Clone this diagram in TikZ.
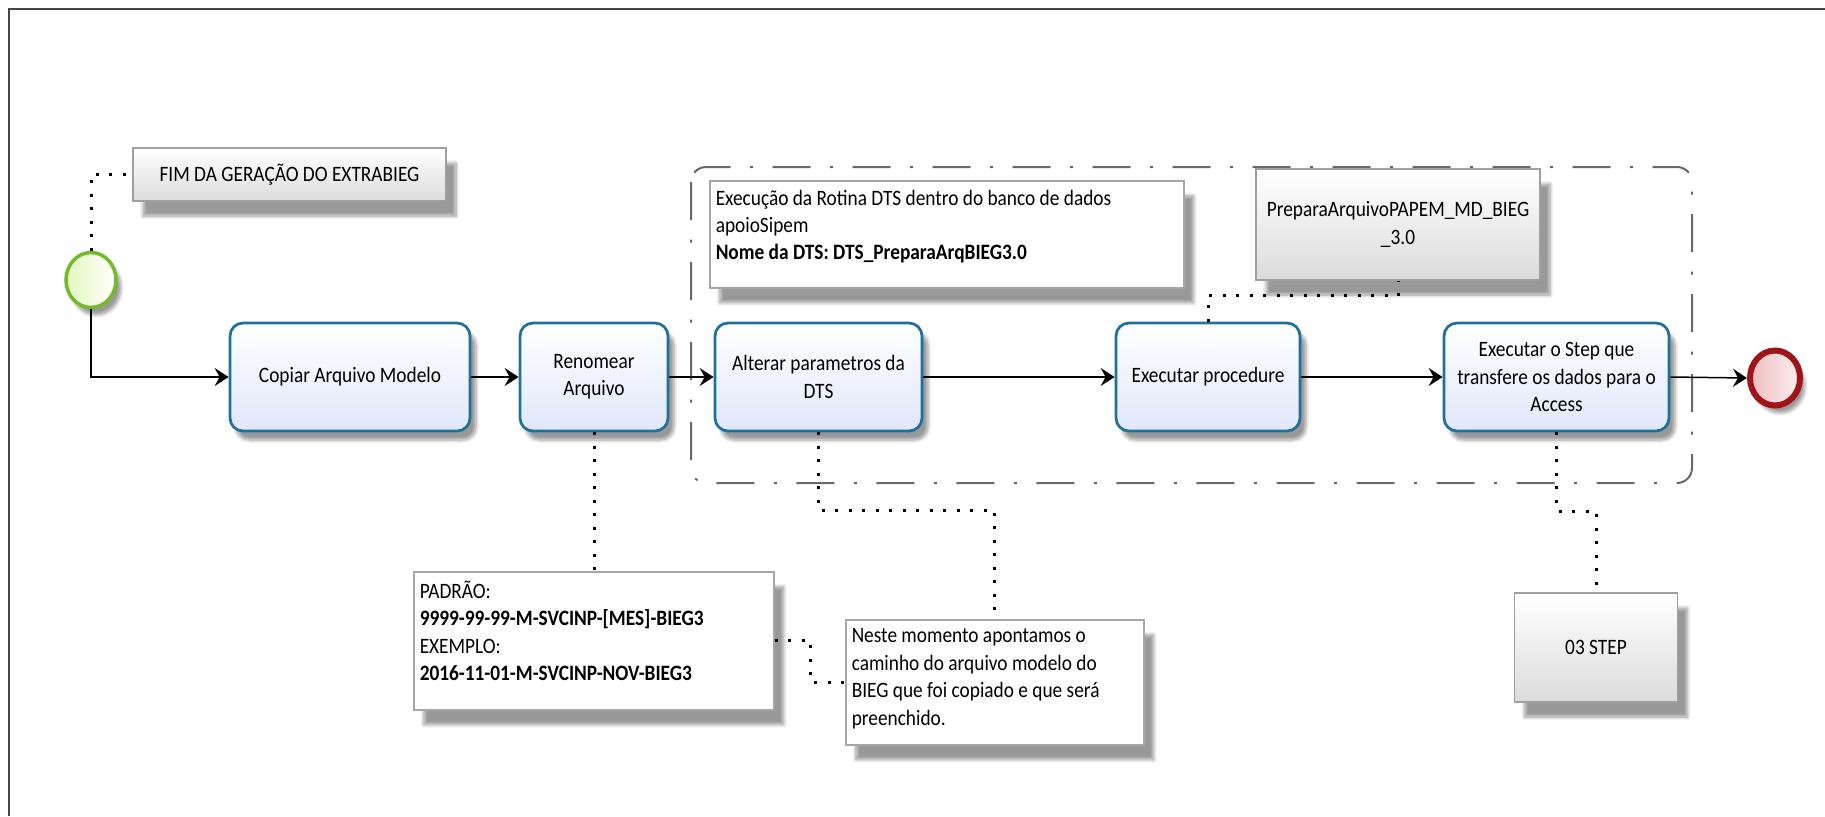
\documentclass[tikz,border=0pt]{standalone}
\usepackage{fontspec}
\setmainfont{Carlito}[FakeStretch=0.88]
\usetikzlibrary{shapes.geometric,shadows.blur,arrows.meta}
\definecolor{azultarefa}{RGB}{32,112,155}
\definecolor{fundotarefa}{RGB}{224,231,250}
\definecolor{verdeinicio}{RGB}{115,185,40}
\definecolor{fundoinicio}{RGB}{228,246,190}
\definecolor{vermelhofim}{RGB}{160,20,25}
\definecolor{fundofim}{RGB}{238,190,192}
\definecolor{cinzagrupo}{RGB}{105,105,105}

\begin{document}
\begin{tikzpicture}[x=0.2mm, y=-0.2mm, font=\fontsize{12.5}{15.6}\selectfont]
            \tikzstyle{tarefa} = [rectangle, rounded corners=2.6mm, draw=azultarefa, line width=0.55mm, top color=white, bottom color=fundotarefa, minimum height=21.6mm, inner sep=0pt, align=center, blur shadow={shadow xshift=1.2mm, shadow yshift=-1.8mm, shadow blur steps=6}]
            \tikzstyle{nota} = [rectangle, draw=gray!70, fill=white, line width=0.3mm, anchor=north west, inner xsep=1.2mm, inner ysep=1.8mm, blur shadow={shadow xshift=2mm, shadow yshift=-3mm, shadow blur steps=8}]
            \tikzstyle{notacinza} = [rectangle, draw=gray!75, line width=0.35mm, top color=white, bottom color=gray!28, inner sep=0pt, align=center, blur shadow={shadow xshift=2mm, shadow yshift=-3mm, shadow blur steps=8}]
            \tikzstyle{evento} = [ellipse, minimum width=10mm, minimum height=11mm, inner sep=0pt, blur shadow={shadow xshift=1mm, shadow yshift=-1.5mm, shadow blur steps=6}]
            \tikzstyle{seta} = [-{Stealth[length=2.8mm, width=3.6mm, inset=1mm]}, line width=0.3mm]
            \tikzstyle{pontos} = [line width=0.6mm, dash pattern=on 0.6mm off 2.1mm]
            \tikzstyle{grupo} = [draw=cinzagrupo, line width=0.4mm, rounded corners=3mm, dash pattern=on 7.6mm off 3.9mm on 0.6mm off 3.9mm]

            \useasboundingbox (0,0) rectangle (1825,816);
            \draw[line width=0.55mm, gray!55!black] (9,816) -- (9,9) -- (1825,9);

            \draw[grupo] (691,167) rectangle (1692,483);

            \node[evento, draw=verdeinicio, line width=0.7mm, left color=fundoinicio, right color=white] (ini) at (91,280) {};
            \node[evento, draw=vermelhofim, line width=1.2mm, left color=fundofim, right color=fundofim!25] (fim) at (1775,378) {};

            \node[tarefa, minimum width=48mm] (copiar) at (350,377) {Copiar Arquivo Modelo};
            \node[tarefa, minimum width=29.6mm] (renomear) at (594,377) {Renomear\\Arquivo};
            \node[tarefa, minimum width=41.4mm] (alterar) at (818.5,377) {Alterar parametros da\\DTS};
            \node[tarefa, minimum width=36.8mm] (executar) at (1208,377) {Executar procedure};
            \node[tarefa, minimum width=45mm] (step) at (1556.5,377) {Executar o Step que\\transfere os dados para o\\Access};

            \node[notacinza, minimum width=62.6mm, minimum height=10.6mm] (geracao) at (289.5,174.5) {FIM DA GERAÇÃO DO EXTRABIEG};
            \node[notacinza, minimum width=56.8mm, minimum height=22.2mm] (prepara) at (1398,224.5) {PreparaArquivoPAPEM\_MD\_BIEG\\\_3.0};
            \node[notacinza, minimum width=32.6mm, minimum height=21.8mm] (passo) at (1596,647.5) {03 STEP};

            \node[nota] (execucao) at (709,180) {\parbox[t][17.8mm][t]{92.4mm}{Execução da Rotina DTS dentro do banco de dados\\apoioSipem\\\textbf{Nome da DTS: DTS\_PreparaArqBIEG3.0}}};
            \node[nota] (padrao) at (413,571) {\parbox[t][24mm][t]{69.6mm}{PADRÃO:\\\textbf{9999-99-99-M-SVCINP-[MES]-BIEG3}\\EXEMPLO:\\\textbf{2016-11-01-M-SVCINP-NOV-BIEG3}}};
            \node[nota] (neste) at (845,619) {\parbox[t][21.4mm][t]{57.2mm}{Neste momento apontamos o\\caminho do arquivo modelo do\\BIEG que foi copiado e que será\\preenchido.}};

            \draw [seta] (ini.south) |- (copiar.west);
            \draw [seta] (copiar.east) -- (renomear.west);
            \draw [seta] (renomear.east) -- (alterar.west);
            \draw [seta] (alterar.east) -- (executar.west);
            \draw [seta] (executar.east) -- (step.west);
            \draw [seta] (step.east) -- (fim.west);

            \draw [pontos] (ini.north) |- (geracao.west);
            \draw [pontos] (renomear.south) -- (padrao.north -| renomear.south);
            \draw [pontos] (alterar.south) -- ++(0,78) -| (neste.north);
            \draw [pontos] (padrao.east) -- ++(36,0) |- (neste.west);
            \draw [pontos] (executar.north) -- ++(0,-26) -| (prepara.south);
            \draw [pontos] (step.south) -- ++(0,79) -| (passo.north);
          \end{tikzpicture}
\end{document}
